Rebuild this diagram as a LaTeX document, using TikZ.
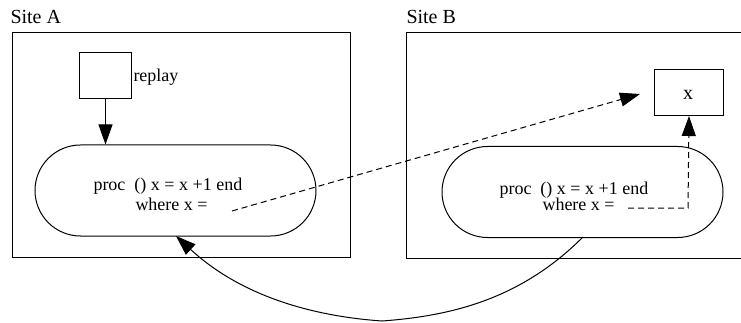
\documentclass[tikz,border=0pt]{standalone}
\usepackage{fontspec}
\setmainfont{Liberation Serif}
\usetikzlibrary{arrows.meta,shapes.misc}
\begin{document}
\begin{tikzpicture}[x=1pt,y=-1pt,line width=1pt,
  box/.style={draw,rectangle,inner sep=0pt,anchor=north west},
  pill/.style={draw,rounded rectangle,inner sep=0pt,minimum height=91pt,minimum width=281pt},
  lbl/.style={inner sep=0pt,anchor=base west,font=\fontsize{18}{20}\selectfont},
  head/.style={-{Triangle[length=20pt,width=14pt]}},
  dashline/.style={dash pattern=on 6pt off 4pt}]
\useasboundingbox (0,0) rectangle (741,323);
\clip (0,0) rectangle (741,323);

% the two sites
\node[box,minimum width=338pt,minimum height=225pt] (siteA) at (12,32) {};
\node[box,minimum width=350pt,minimum height=226pt] (siteB) at (406,32) {};
\node[lbl,font=\fontsize{20}{22}\selectfont] (labA) at (10,24) {Site A};
\node[lbl,font=\fontsize{20}{22}\selectfont] (labB) at (406,24) {Site B};

% site A contents
\node[box,minimum width=52pt,minimum height=46pt] (replaybox) at (79,52) {};
\node[lbl] (replay) at (133,82) {replay};
\node[pill] (procA) at (175.5,190.5) {};
\node[lbl] (codeA) at (93,191) {proc\ \ () x = x +1 end};
\node[lbl] (whereA) at (135,210) {where x =};
\coordinate (refA) at (232,211);

% site B contents
\node[box,minimum width=69pt,minimum height=46pt] (xbox) at (654,69) {};
\node[lbl,font=\fontsize{20}{22}\selectfont,anchor=base] (xval) at (688,100) {x};
\node[pill] (procB) at (582.5,192) {};
\node[lbl] (codeB) at (499,194) {proc\ \ () x = x +1 end};
\node[lbl] (whereB) at (542,211) {where x =};
\coordinate (refB) at (628,208);
\coordinate (xin) at (640,94);

% connectors
\draw[head] (replaybox.south) -- (procA.north -| replaybox.south);
\draw[head,dashline] (refA) -- (xin);
\draw[head,dashline] (refB) -- (688,208) -- (xbox.south);
\coordinate (bStart) at (583,237);
\coordinate (aEnd) at (176,236);
\coordinate (low) at (382,321);
\draw[head] (bStart) .. controls (520,300) and (450,316) .. (low)
  .. controls (310,316) and (240,295) .. (aEnd);
\end{tikzpicture}
\end{document}
